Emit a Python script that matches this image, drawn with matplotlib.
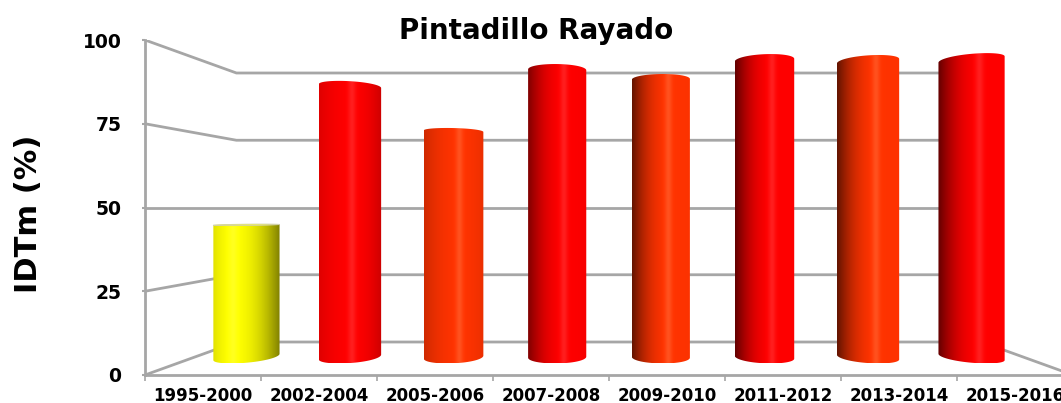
import numpy as np
import matplotlib.pyplot as plt
from matplotlib.patches import Polygon
from matplotlib.colors import to_rgb

periods = ['1995-2000', '2002-2004', '2005-2006', '2007-2008',
           '2009-2010', '2011-2012', '2013-2014', '2015-2016']
idtm = [44.2, 90.6, 75.5, 96.0, 92.8, 99.2, 98.9, 99.5]
bar_colors = ['#ffff00', '#ff0000', '#ff3300', '#ff0000',
              '#ff3300', '#ff0000', '#ff3300', '#ff0000']
yticks = [0, 25, 50, 75, 100]

# fake 3D: depth d in [0,1] pulls points towards a vanishing point
K = 0.197
VX, VY = 3.5, 50.0


def proj(x, v, d):
    s = 1 - K * d
    return VX + (x - VX) * s, VY + (v - VY) * s


def shade(i, t):
    # brightness across a cylinder, darker on the side turned away from the light
    left = 0.38 + 0.5 / (1 + np.exp(3 * (i - 2.6)))
    right = 1 - 0.5 * np.exp(-0.9 * i)
    th = 0.62 - 0.32 * np.exp(-1.2 * i)
    b = np.where(t < th,
                 left + (1 - left) * (1 - ((th - t) / th) ** 2),
                 right + (1 - right) * (1 - ((t - th) / (1 - th)) ** 2))
    spec = 0.12 * np.exp(-((t - th) / 0.06) ** 2)
    return b, spec


grey = '#a6a6a6'
fig = plt.figure(figsize=(10.61, 4.03), dpi=100)
ax = fig.add_axes([145 / 1061, 28 / 403, 928 / 1061, 335 / 403])

# side wall + back wall lines
x0, x1 = -0.5, len(periods) - 0.5
for g in yticks:
    bx, by = proj(x0, g, 1)
    ex, ey = proj(x1, g, 1)
    ax.plot([x0, bx, ex], [g, by, ey], color=grey, lw=2, zorder=1,
            solid_capstyle='butt')
fx, fy = proj(x1, 0, 1)
ax.plot([fx, x1], [fy, 0], color=grey, lw=2, zorder=1, clip_on=False)

# cylinders
r, rd, dc = 0.28, 0.2, 0.55
for i, (v, col) in enumerate(zip(idtm, bar_colors)):
    # left/right extremes of the projected circle (same for top and bottom)
    th_l = np.linspace(np.pi / 2, 3 * np.pi / 2, 2001)
    th_r = np.linspace(3 * np.pi / 2, 5 * np.pi / 2, 2001)
    xl, _ = proj(i + r * np.cos(th_l), 0, dc + rd * np.sin(th_l))
    xr, _ = proj(i + r * np.cos(th_r), 0, dc + rd * np.sin(th_r))
    t_min = th_l[np.argmin(xl)]
    t_max = th_r[np.argmax(xr)]
    front = np.linspace(t_min, t_max, 100)
    back = np.linspace(t_max, t_min + 2 * np.pi, 100)

    X0, Y0 = proj(i + r * np.cos(front), 0, dc + rd * np.sin(front))
    top = front[::-1] if v > VY else back
    X1, Y1 = proj(i + r * np.cos(top), v, dc + rd * np.sin(top))
    xs = np.concatenate([X0, X1])
    ys = np.concatenate([Y0, Y1])
    poly = Polygon(np.column_stack([xs, ys]), closed=True,
                   facecolor='none', edgecolor='none')
    ax.add_patch(poly)

    t = np.linspace(0, 1, 300)
    b, spec = shade(i, t)
    rgb = np.clip(np.array(to_rgb(col))[None, :] * b[:, None] + spec[:, None], 0, 1)
    im = ax.imshow(rgb[None, :, :], extent=[xs.min(), xs.max(), ys.min(), ys.max()],
                   aspect='auto', interpolation='bilinear', zorder=3)
    im.set_clip_path(poly)

    if v <= VY:
        th = np.linspace(0, 2 * np.pi, 160)
        X2, Y2 = proj(i + r * np.cos(th), v, dc + rd * np.sin(th))
        top_rgb = np.clip(np.array(to_rgb(col)) * 0.9 + 0.25, 0, 1)
        ax.fill(X2, Y2, color=top_rgb, ec='#d0d0a8', lw=0.6, zorder=4)

ax.set_xlim(-0.5, 7.5)
ax.set_ylim(0, 100)

for s in ['top', 'right']:
    ax.spines[s].set_visible(False)
for s in ['left', 'bottom']:
    ax.spines[s].set_color(grey)
    ax.spines[s].set_linewidth(2)
    ax.spines[s].set_zorder(2)

ax.set_xticks(range(len(periods)), labels=periods)
ax.set_xticks(np.arange(-0.5, len(periods)), minor=True)
ax.tick_params(axis='x', which='major', length=0, pad=8.5)
ax.tick_params(axis='x', which='minor', length=4, width=1.2, color=grey)
ax.set_yticks(yticks)
ax.tick_params(axis='y', length=2, width=1.5, color=grey, pad=15)
for lab in ax.get_xticklabels():
    lab.set_fontsize(12)
    lab.set_fontweight('bold')
for lab in ax.get_yticklabels():
    lab.set_fontsize(13.5)
    lab.set_fontweight('bold')

ax.set_ylabel('IDTm (%)', fontsize=22, fontweight='bold', va='center')
ax.yaxis.set_label_coords(-0.125, 0.48)

fig.text(536 / 1061, 1 - 31 / 403, 'Pintadillo Rayado', ha='center', va='center',
         fontsize=20, fontweight='bold')

fig.savefig('out.png', dpi=100)
